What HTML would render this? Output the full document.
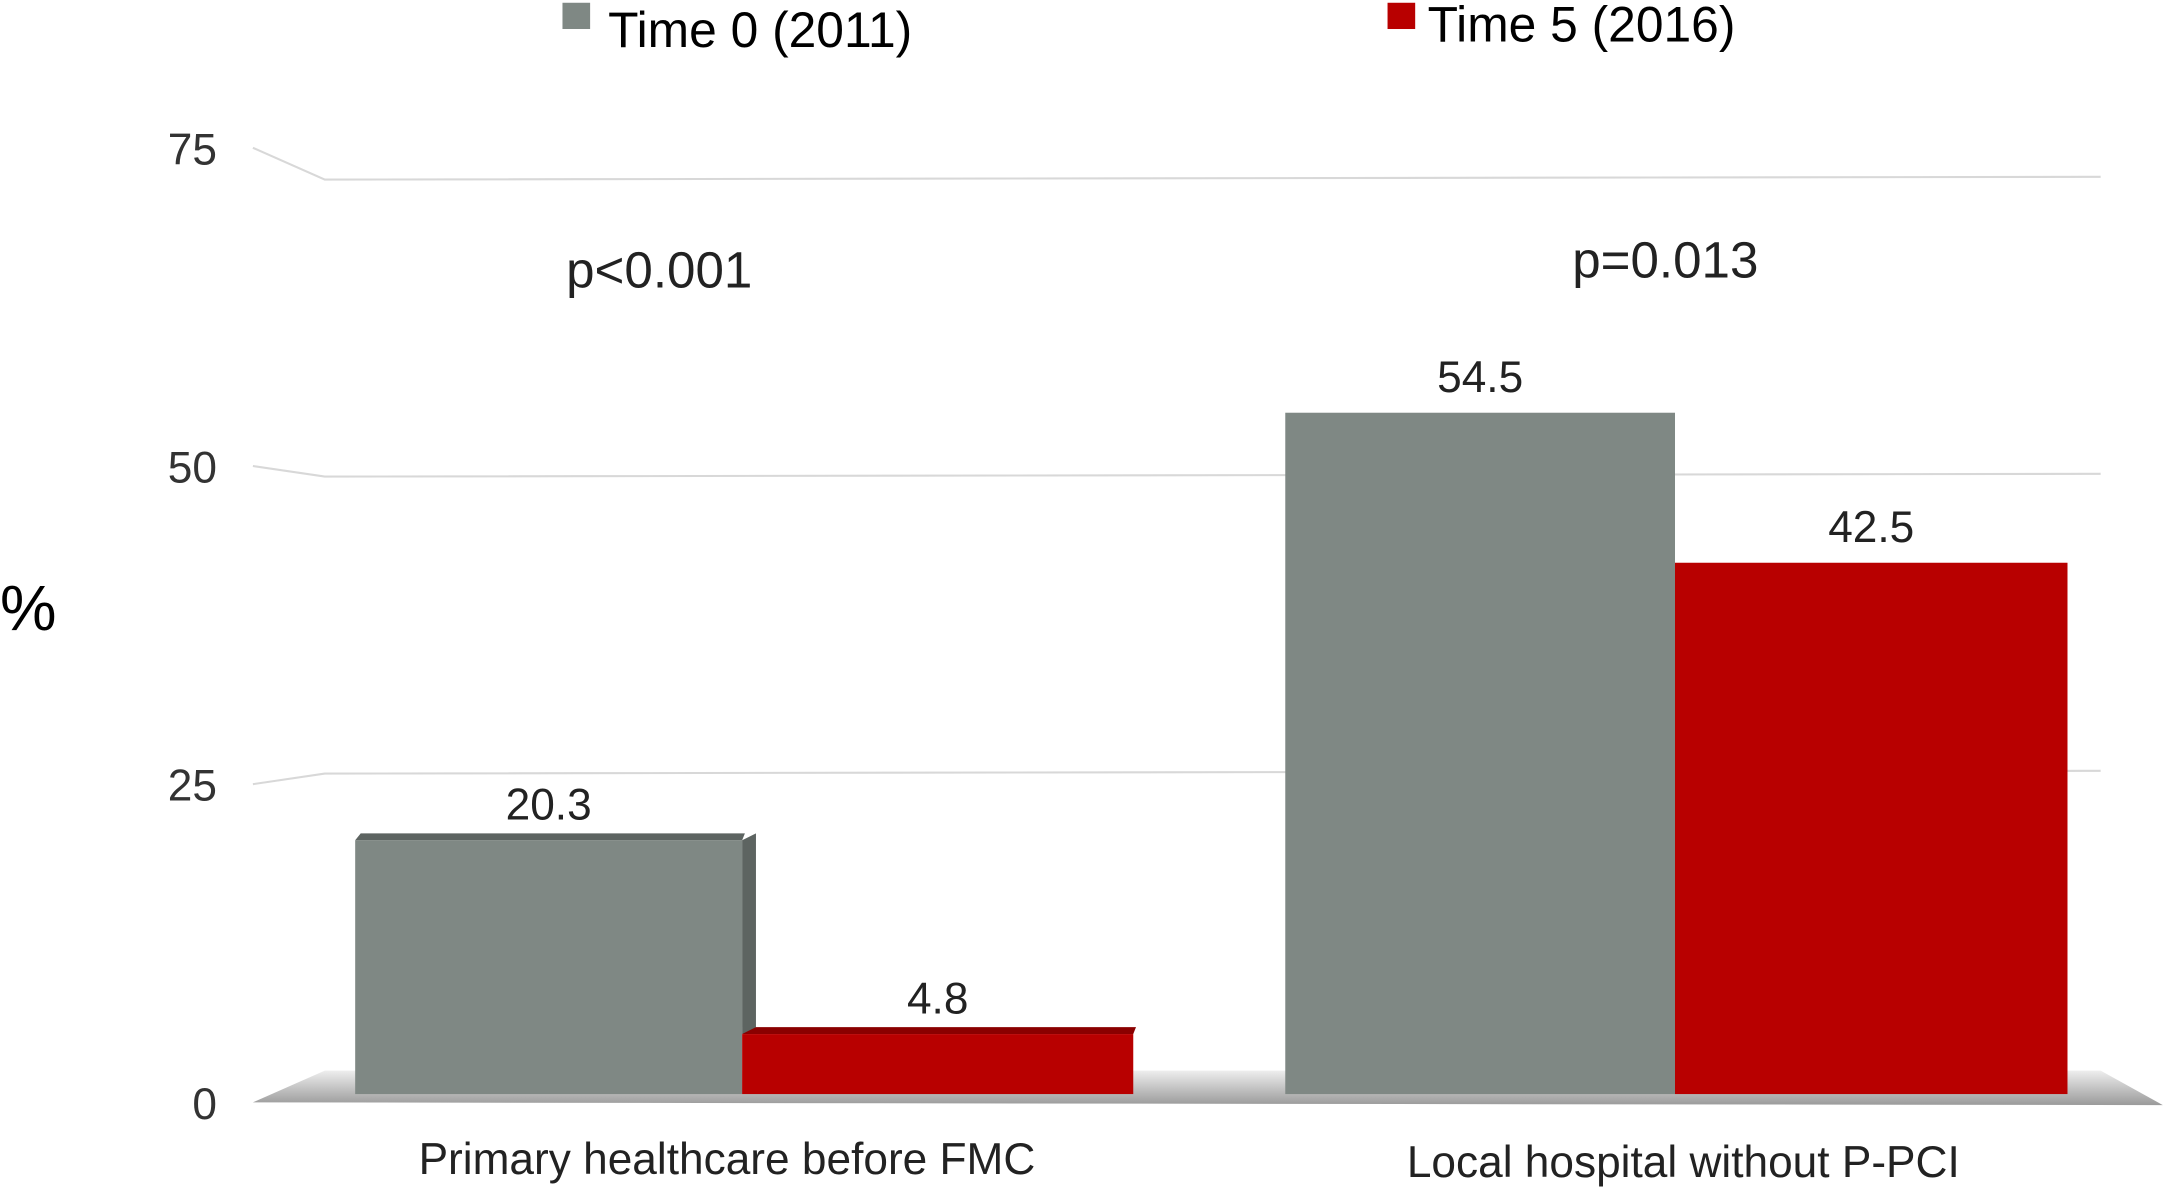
<!DOCTYPE html>
<html><head><meta charset="utf-8"><style>html,body{margin:0;padding:0;background:#fff}svg{display:block}text{font-family:"Liberation Sans",sans-serif}</style></head>
<body>
<svg width="2167" height="1188" viewBox="0 0 1568 860" preserveAspectRatio="none">
<defs>
<linearGradient id="fl" x1="0" y1="0" x2="0" y2="1"><stop offset="0" stop-color="#eee"/><stop offset="1" stop-color="#9a9a9a"/></linearGradient>
</defs>
<g id="grid"></g>
<polygon points="183,798 235,775 1520,775 1565,800" fill="url(#fl)"/>
<g id="bars"></g>
<g id="labels"></g>
<text x="0" y="456" font-size="46">%</text>
<rect x="407" y="2" width="20" height="19" fill="#7f8884"/>
<text x="440" y="34" font-size="36">Time 0 (2011)</text>
<rect x="1004" y="2" width="20" height="19" fill="#b80000"/>
<text x="1033" y="30" font-size="36">Time 5 (2016)</text>
<text x="477" y="208" font-size="37" text-anchor="middle" fill="#222">p&lt;0.001</text>
<text x="1205" y="201" font-size="37" text-anchor="middle" fill="#222">p=0.013</text>
<script>
const categories=["Primary healthcare before FMC","Local hospital without P-PCI"];
const time0=[20.3,54.5];
const time5=[4.8,42.5];
const ticks=[0,25,50,75];
const NS="http://www.w3.org/2000/svg";
const base=792, k=9.05;
function y(v){return base-v*k;}
// gridline back-wall position (perspective): 0->775, 75->130
function gy(v){return 775-v*(645/75);}
function gyFront(v){return 798-v*(691/75);}
const g=document.getElementById('grid'),b=document.getElementById('bars'),L=document.getElementById('labels');
function mk(p,tag,a){const e=document.createElementNS(NS,tag);for(const n in a)e.setAttribute(n,a[n]);p.appendChild(e);return e;}
ticks.forEach(t=>{
  if(t>0){
    const l=mk(g,'polyline',{points:`183,${gyFront(t)} 235,${gy(t)} 1520,${gy(t)-2}`,fill:'none',stroke:'#d8d8d8','stroke-width':1.5});
    
    
  }
  const tx=mk(L,'text',{x:157,y:gyFront(t)+12,'font-size':32,'text-anchor':'end',fill:'#333'});
  tx.textContent=t;
  
  
});
const groups=[[257,537,820],[930,1212,1496]];
categories.forEach((c,i)=>{
  const [x0,x1,x2]=groups[i];
  const series=[[time0[i],x0,x1,'#7f8884','#5d6461','time0'],[time5[i],x1,x2,'#b80000','#8a0000','time5']];
  series.forEach(([v,a,bx,col,dk,nm])=>{
    const r=mk(b,'rect',{x:a,y:y(v),width:bx-a,height:v*k,fill:col});
    
    
    if(i===0){
      const t=mk(b,'polygon',{points:`${a},${y(v)} ${a+4},${y(v)-5} ${bx+2},${y(v)-5} ${bx},${y(v)}`,fill:dk});
      
      
    }
    const lb=mk(L,'text',{x:(a+bx)/2,y:y(v)-15,'font-size':32,'text-anchor':'middle',fill:'#222'});
    lb.textContent=v.toFixed(1);
    
    
  });
  const cl=mk(L,'text',{x:i===0?526:1218,y:i===0?850:852,'font-size':32,'text-anchor':'middle',fill:'#222'});
  cl.textContent=c;
  
  
});
const sf=mk(b,'polygon',{points:`537,${y(time0[0])} 547,${y(time0[0])-5} 547,${y(time5[0])-5} 537,${y(time5[0])}`,fill:'#5d6461'});


</script>
</svg>
</body></html>
